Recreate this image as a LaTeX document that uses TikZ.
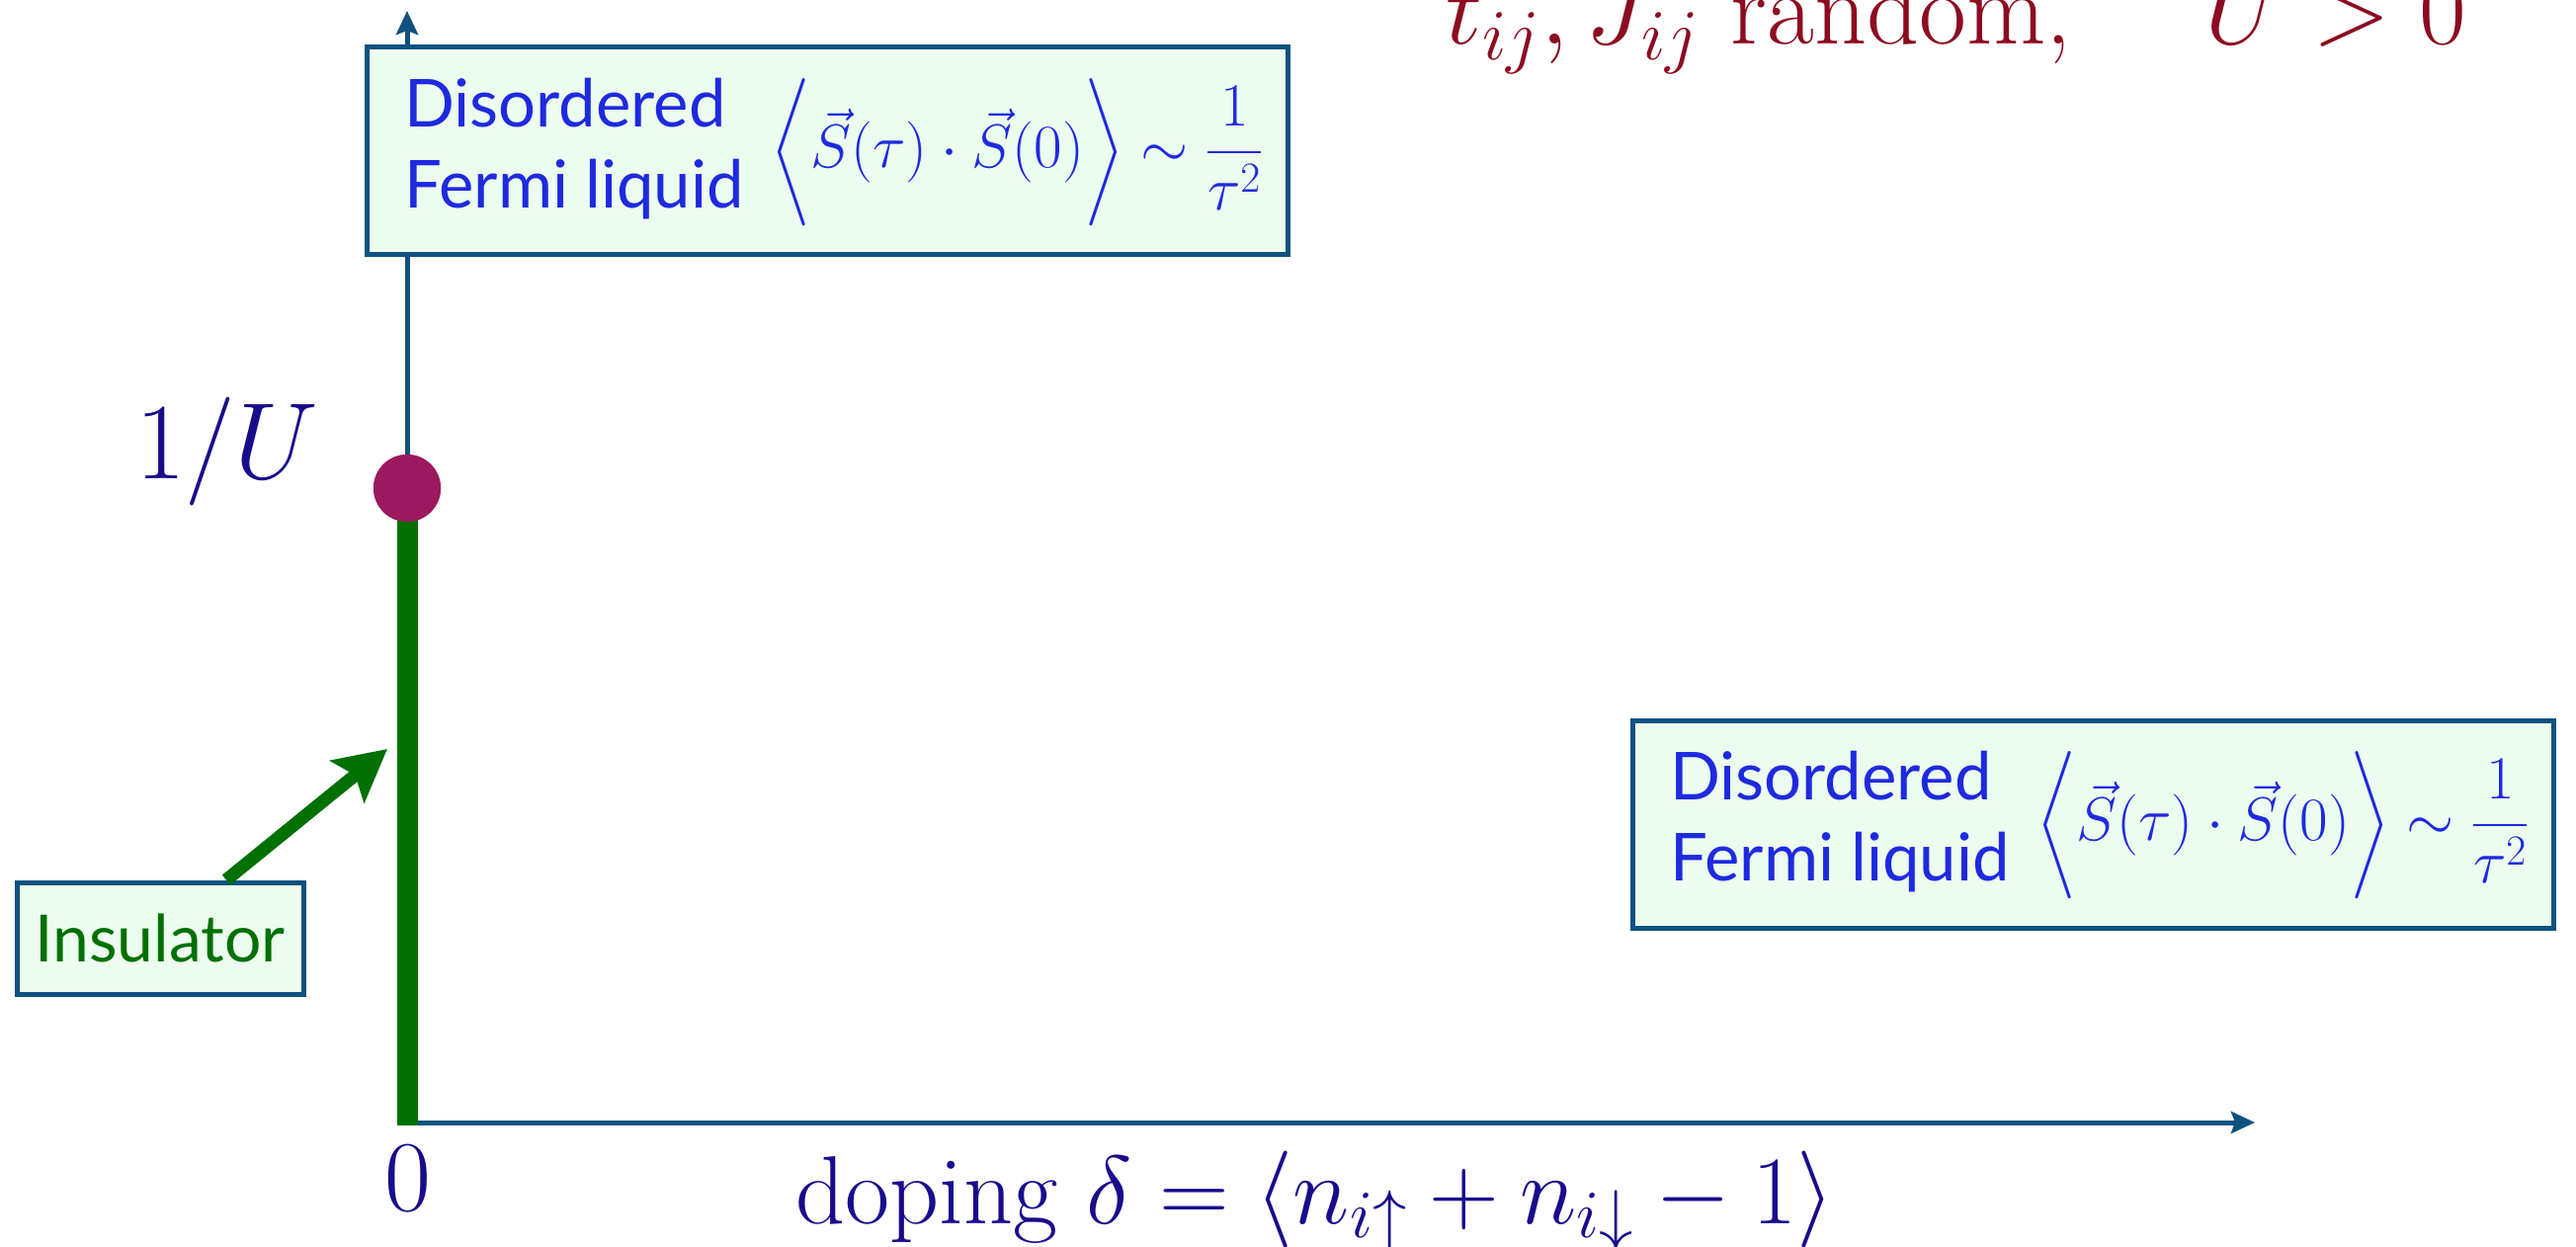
\documentclass[tikz,border=0pt]{standalone}
\usepackage{fix-cm}
\usepackage{amsmath}
\usepackage{exscale}
\usepackage{fontspec}
\setsansfont{Lato}
\usetikzlibrary{arrows.meta}
\definecolor{axisblue}{RGB}{15,82,128}
\definecolor{boxfill}{RGB}{236,252,238}
\definecolor{txtblue}{RGB}{30,42,222}
\definecolor{navy}{RGB}{25,12,140}
\definecolor{titlered}{RGB}{140,12,32}
\definecolor{phasegreen}{RGB}{0,112,0}
\definecolor{dotmag}{RGB}{155,25,95}
\tikzset{
  axisline/.style={draw=axisblue, line width=2.5pt, -{Stealth[length=12pt,width=11pt,inset=2pt]}},
  phasebox/.style={draw=axisblue, line width=2.5pt, fill=boxfill, minimum width=466pt,
    minimum height=105pt, inner sep=0pt, text=txtblue, font=\fontsize{33.5}{41}\selectfont},
  insbox/.style={draw=axisblue, line width=2.5pt, fill=boxfill, minimum width=145pt,
    minimum height=56.5pt, inner sep=0pt, text=phasegreen, font=\sffamily\fontsize{33}{39}\selectfont},
  biglabel/.style={inner sep=0pt, text=navy},
  titlelabel/.style={inner sep=0pt, text=titlered, font=\fontsize{52}{62}\selectfont},
  critdot/.style={circle, fill=dotmag, minimum size=34pt, inner sep=0pt},
  insline/.style={draw=phasegreen, line width=10.5pt},
  insarrow/.style={draw=phasegreen, line width=6.5pt, -{Stealth[length=26pt,width=27pt,inset=5pt]}}
}
\newcommand{\phasetext}{\raisebox{-4pt}{\hspace*{6.5pt}\sffamily\begin{tabular}{@{}l@{}}Disordered\\Fermi liquid\end{tabular}\hspace{14pt}%
{\fontsize{31}{37}\selectfont$\biggl\langle\vec S(\tau)\cdot\vec S(0)\biggr\rangle\sim\dfrac{1}{\tau^2}$}}}
\begin{document}
\begin{tikzpicture}[x=0.5pt,y=-0.5pt]
\useasboundingbox (0,0) rectangle (2607,1262);
% axes
\coordinate (O) at (412,1136);
\coordinate (ytip) at (412,11);
\coordinate (xtip) at (2282,1136);
\draw[axisline] (O) -- (ytip);
\draw[axisline] (O) -- (xtip);
% insulator line and critical point
\node[critdot] (dot) at (412,494) {};
\draw[insline, shorten <=-1.5pt] (O) -- (dot.center);
\node[critdot] at (dot.center) {};
% boxes
\node[phasebox] (top) at (837.5,153) {\phasetext};
\node[phasebox] (right) at (2118.5,834) {\phasetext};
\node[insbox] (ins) at (162,949.5) {Insulator};
\coordinate (instip) at (392,758);
\draw[insarrow] ([xshift=33.5pt]ins.north) -- (instip);
% labels
\node[biglabel, anchor=base east, font=\fontsize{55}{66}\selectfont] (oneU) at (323,484) {$1/U$};
\node[biglabel, anchor=base, font=\fontsize{51}{61}\selectfont] (zero) at (413,1225) {$0$};
\node[biglabel, anchor=base west, font=\fontsize{49}{59}\selectfont] (dop) at (805,1238) {doping $\delta=\langle n_{i\uparrow}+n_{i\downarrow}-1\rangle$};
\node[titlelabel, anchor=base east] (title) at (2497,45) {$t_{ij}, J_{ij}$ random, \quad $U>0$};
\end{tikzpicture}
\end{document}
